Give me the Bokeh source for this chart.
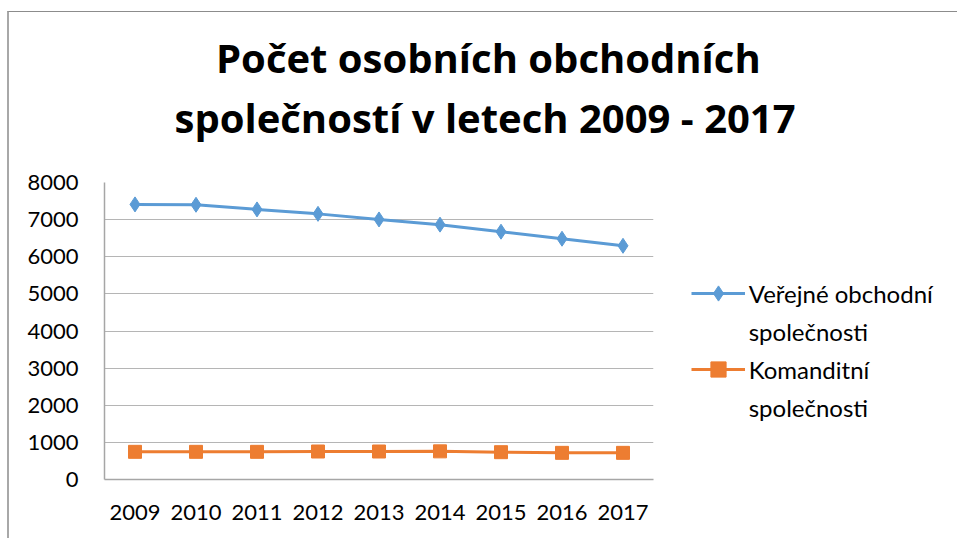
from bokeh.plotting import figure
from bokeh.models import (FactorRange, Range1d, Legend, LegendItem, Title, FixedTicker,
                          CategoricalAxis)
from bokeh.embed import file_html
from bokeh.resources import INLINE

# ---- data ----
years = ["2009", "2010", "2011", "2012", "2013", "2014", "2015", "2016", "2017"]
verejne = [7410, 7400, 7275, 7155, 7005, 6865, 6675, 6485, 6295]
komanditni = [745, 745, 745, 754, 754, 758, 736, 718, 718]
y_ticks = [0, 1000, 2000, 3000, 4000, 5000, 6000, 7000, 8000]
title_lines = ["Počet osobních obchodních", "společností v letech 2009 - 2017"]
legend_verejne = ["Veřejné obchodní", "společnosti"]
legend_komanditni = ["Komanditní", "společnosti"]

BLUE = "#5B9BD5"
ORANGE = "#ED7D31"
FONT = "Lato"
TFONT = "Open Sans"

p = figure(frame_width=549, frame_height=297,
           x_range=FactorRange(*years, range_padding=0),
           y_range=Range1d(0, 8000),
           output_backend="svg", toolbar_location=None,
           min_border_left=95, min_border_right=303,
           min_border_top=170, min_border_bottom=59)
p.styles = {"border-top": "1px solid #8c8c8c", "border-left": "2px solid #a8a8a8",
            "margin-top": "11px", "margin-left": "7px"}

p.outline_line_color = None
p.background_fill_color = "white"
p.border_fill_color = "white"

p.xgrid.grid_line_color = None
p.ygrid.grid_line_color = "#b5b5b5"
p.ygrid.grid_line_width = 1

p.yaxis.ticker = FixedTicker(ticks=y_ticks)
for ax in (p.xaxis[0], p.yaxis[0]):
    ax.axis_line_color = "#a6a6a6"
    ax.axis_line_width = 1.5
    ax.major_tick_out = 0
    ax.major_tick_in = 0
    ax.minor_tick_out = 0
    ax.minor_tick_in = 0
    ax.major_label_text_font = FONT
    ax.major_label_text_font_size = "22px"
    ax.major_label_text_color = "#000000"
p.yaxis.major_label_standoff = 26
p.xaxis.major_label_standoff = 25

bl = p.line(years, verejne, line_color=BLUE, line_width=3)
bs = p.scatter(years, verejne, marker="diamond", size=15, fill_color=BLUE, line_color=BLUE)
ol = p.line(years, komanditni, line_color=ORANGE, line_width=3)
osq = p.scatter(years, komanditni, marker="square", size=13, fill_color=ORANGE, line_color=ORANGE)
blank = p.line(x=[], y=[], line_alpha=0)   # no glyph for the wrapped second label lines

legend = Legend(items=[LegendItem(label=legend_verejne[0], renderers=[bl, bs]),
                       LegendItem(label=legend_verejne[1], renderers=[blank]),
                       LegendItem(label=legend_komanditni[0], renderers=[ol, osq]),
                       LegendItem(label=legend_komanditni[1], renderers=[blank])],
                location=(37.7, 52.7), orientation="vertical",
                padding=0, margin=0, spacing=0,
                glyph_width=54, glyph_height=38, label_height=38,
                label_standoff=4,
                border_line_alpha=0, background_fill_alpha=0,
                label_text_font=FONT, label_text_font_size="24px",
                label_text_color="#000000")
p.add_layout(legend, "right")

# "above" layouts stack outward from the plot in the order added; p.title is outermost.
# 1) transparent spacer right above the plot area (invisible ticks, blank labels)
p.add_layout(CategoricalAxis(axis_line_color=None, major_tick_line_color=None,
                             major_tick_out=37, major_tick_in=0,
                             minor_tick_out=0, minor_tick_in=0,
                             major_label_standoff=0,
                             major_label_text_font_size="1px",
                             major_label_text_alpha=0,
                             major_label_overrides={y: " " for y in years}), "above")
# 2) second title line
p.add_layout(Title(text=title_lines[1], align="left", offset=70, standoff=2,
                   text_font=TFONT, text_font_size="40px", text_font_style="bold",
                   text_color="#000000"),
             "above")
# 3) first title line (outermost)
p.title.text = title_lines[0]
p.title.align = "left"
p.title.offset = 111.5
p.title.standoff = 4
p.title.text_font = TFONT
p.title.text_font_size = "40px"
p.title.text_font_style = "bold"
p.title.text_color = "#000000"

open("out.html", "w").write(file_html(p, INLINE))
